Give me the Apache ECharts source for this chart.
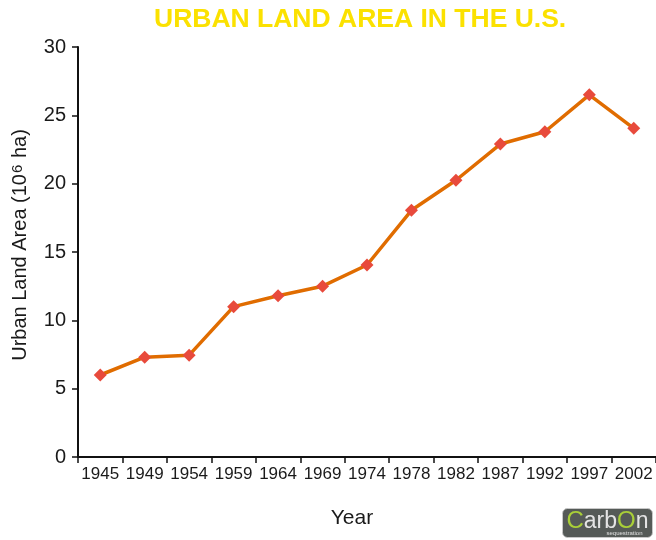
<!DOCTYPE html>
<html>
<head>
<meta charset="utf-8">
<title>Urban Land Area in the U.S.</title>
<script src="https://cdn.jsdelivr.net/npm/echarts@6/dist/echarts.min.js"></script>
<style>
  html, body { margin: 0; padding: 0; background: #fff; }
  #chart { width: 656px; height: 540px; }
</style>
</head>
<body>
<div id="chart"></div>
<script>
// Survey years and urban land area (million hectares)
const years = ['1945', '1949', '1954', '1959', '1964', '1969', '1974', '1978', '1982', '1987', '1992', '1997', '2002'];
const urbanArea = [6.0, 7.3, 7.45, 11.0, 11.8, 12.5, 14.05, 18.05, 20.25, 22.9, 23.8, 26.5, 24.05];
const yTicks = { min: 0, max: 30, step: 5 };

const FONT = '"Liberation Sans", Arial, Helvetica, sans-serif';
const chart = echarts.init(document.getElementById('chart'), null, { renderer: 'canvas' });

chart.setOption({
  backgroundColor: '#ffffff',
  animation: false,
  grid: { left: 78, right: 0, top: 47, bottom: 83, containLabel: false },
  xAxis: {
    type: 'category',
    data: years,
    boundaryGap: true,
    name: 'Year',
    nameLocation: 'middle',
    nameGap: 51,
    nameTextStyle: { fontFamily: FONT, fontSize: 21, color: '#1a1a1a', padding: [0, 30, 0, 0] },
    axisLine: { show: true, lineStyle: { color: '#111', width: 2 } },
    axisTick: { show: true, alignWithLabel: false, length: 6, lineStyle: { color: '#111', width: 1.5 } },
    axisLabel: { fontFamily: FONT, fontSize: 17, color: '#1a1a1a', margin: 9, interval: 0 },
    splitLine: { show: false }
  },
  yAxis: {
    type: 'value',
    min: yTicks.min,
    max: yTicks.max,
    interval: yTicks.step,
    name: 'Urban Land Area (10{sup|6} ha)',
    nameLocation: 'middle',
    nameGap: 48,
    nameRotate: 90,
    nameTextStyle: {
      fontFamily: FONT, fontSize: 20, color: '#1a1a1a', padding: [0, 0, 0, 14],
      rich: {
        sup: { fontFamily: FONT, fontSize: 15, color: '#1a1a1a', verticalAlign: 'top', lineHeight: 13, padding: [0, 1, 5, 1] }
      }
    },
    axisLine: { show: true, lineStyle: { color: '#111', width: 2 } },
    axisTick: { show: true, length: 6, lineStyle: { color: '#111', width: 1.5 } },
    axisLabel: { fontFamily: FONT, fontSize: 20, color: '#1a1a1a', margin: 12 },
    splitLine: { show: false }
  },
  series: [{
    type: 'line',
    data: urbanArea,
    symbol: 'diamond',
    symbolSize: [13, 13],
    showAllSymbol: true,
    lineStyle: { color: '#e06c00', width: 3.5 },
    itemStyle: { color: '#e84a3c', borderWidth: 0 },
    z: 3
  }],
  graphic: [
    {
      type: 'text',
      left: 154,
      top: 6,
      style: {
        text: 'URBAN LAND AREA IN THE U.S.',
        font: 'bold 26.5px ' + FONT,
        fill: '#fbe100'
      }
    },
    {
      type: 'group',
      left: 562,
      top: 508,
      children: [
        {
          type: 'rect',
          shape: { x: 0, y: 0, width: 90, height: 29, r: 5 },
          style: { fill: '#555a57', stroke: '#c8c8c8', lineWidth: 1 }
        },
        {
          type: 'text',
          x: 45, y: 13,
          style: {
            text: '{g|C}{w|arb}{g|O}{w|n}',
            align: 'center',
            verticalAlign: 'middle',
            rich: {
              g: { font: '24px ' + FONT, fill: '#a9cf38' },
              w: { font: '23px ' + FONT, fill: '#e4e4e4' }
            }
          }
        },
        {
          type: 'text',
          x: 62, y: 25,
          style: { text: 'sequestration', align: 'center', verticalAlign: 'middle', font: '6px ' + FONT, fill: '#e0e0e0' }
        }
      ]
    }
  ]
});
</script>
</body>
</html>
